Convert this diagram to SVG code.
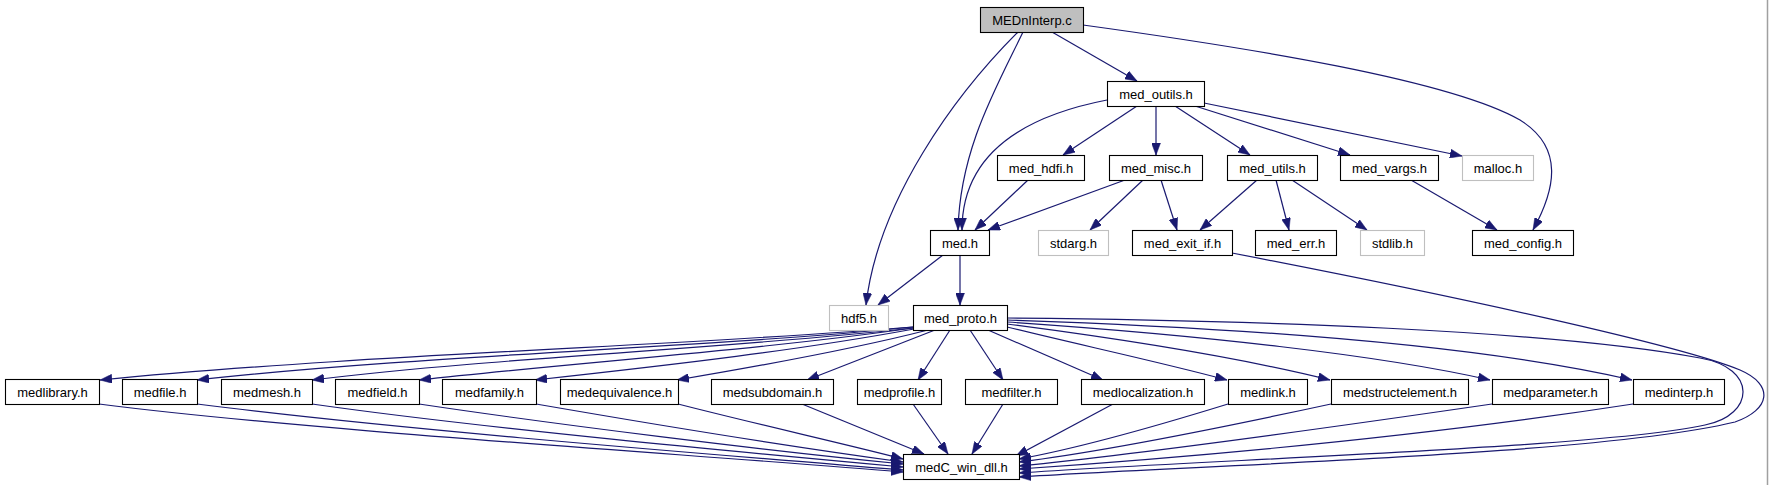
<svg xmlns="http://www.w3.org/2000/svg" width="1769" height="485" viewBox="0 0 1769 485">
<style>
.n rect{fill:#ffffff;stroke:#000000;stroke-width:1.1}
.n.g rect{stroke:#bfbfbf}
.n.root rect{fill:#bfbfbf}
.n text{font-family:"Liberation Sans",Arial,sans-serif;font-size:13px;text-anchor:middle;fill:#000000}
#edges path{fill:none;stroke:#191970;stroke-width:1.2;marker-end:url(#ah)}
</style>
<defs>
<marker id="ah" viewBox="0 0 12 9" refX="12" refY="4.5" markerWidth="12" markerHeight="9" markerUnits="userSpaceOnUse" orient="auto">
<path d="M0,0 L12,4.5 L0,9 z" fill="#191970" stroke="#191970" stroke-width="0.5"/>
</marker>
</defs>
<rect x="0" y="0" width="1769" height="485" fill="#ffffff"/>
<line x1="1767.5" y1="0" x2="1767.5" y2="485" stroke="#a0a0a0" stroke-width="1.5"/>
<g id="edges">
<path d="M1052,32 L1137,81"/>
<path d="M1023,32 C995,90 960,150 958,230"/>
<path d="M1018,32 C955,95 878,200 866,305"/>
<path d="M1083,25 C1250,48 1450,80 1520,120 C1565,148 1555,190 1533,230"/>
<path d="M1107,100 C1030,115 962,150 962,230"/>
<path d="M1137,106 L1063,155"/>
<path d="M1156,106 L1156,155"/>
<path d="M1175,106 L1250,155"/>
<path d="M1195,106 L1350,155"/>
<path d="M1204,103 L1462,156"/>
<path d="M1028,180 L975,230"/>
<path d="M1125,180 L988,230"/>
<path d="M1143,180 L1090,230"/>
<path d="M1161,180 L1177,230"/>
<path d="M1257,180 L1200,230"/>
<path d="M1276,180 L1289,230"/>
<path d="M1292,180 L1367,230"/>
<path d="M1411,180 L1497,230"/>
<path d="M943,255 L878,305"/>
<path d="M960,255 L960,305"/>
<path d="M1232,253 C1450,295 1680,345 1740,370 C1775,385 1770,410 1735,422 C1600,455 1200,465 1019,477"/>
<path d="M1007,318 C1250,320 1550,330 1700,358 C1758,368 1755,415 1705,425 C1600,448 1200,460 1019,473"/>
<path d="M913,327 C700,345 350,355 100,380"/>
<path d="M913,327 C720,347 420,355 197,380"/>
<path d="M913,328 C740,348 500,357 312,380"/>
<path d="M913,328 C760,350 580,362 419,380"/>
<path d="M914,329 C800,350 680,364 535,380"/>
<path d="M928,330 C850,350 760,366 677,380"/>
<path d="M935,330 L807,380"/>
<path d="M950,330 L918,380"/>
<path d="M970,330 L1003,380"/>
<path d="M988,330 L1103,380"/>
<path d="M1007,327 C1080,345 1160,362 1227,380"/>
<path d="M1007,324 C1130,340 1250,360 1330,380"/>
<path d="M1007,322 C1200,335 1380,355 1490,380"/>
<path d="M1007,320 C1250,328 1480,345 1632,380"/>
<path d="M99,404 C300,430 700,455 903,472"/>
<path d="M197,404 C400,430 720,455 903,470"/>
<path d="M312,404 C480,428 740,452 903,467"/>
<path d="M419,404 C560,425 760,450 903,464"/>
<path d="M536,404 C640,422 800,448 903,462"/>
<path d="M678,404 C760,425 850,445 903,459"/>
<path d="M802,404 L924,454"/>
<path d="M913,404 L948,454"/>
<path d="M1003,404 L972,454"/>
<path d="M1113,404 L1016,456"/>
<path d="M1228,404 C1160,425 1080,448 1019,459"/>
<path d="M1331,404 C1220,428 1100,452 1019,462"/>
<path d="M1492,404 C1300,432 1120,456 1019,466"/>
<path d="M1633,404 C1400,440 1150,460 1019,469"/>
</g>
<g id="n_MEDnInterp_c" class="n root"><rect x="980.5" y="7.5" width="103" height="25"/><text x="1032" y="24.5">MEDnInterp.c</text></g>
<g id="n_med_outils_h" class="n"><rect x="1107.5" y="81.5" width="97" height="25"/><text x="1156" y="98.5">med_outils.h</text></g>
<g id="n_med_hdfi_h" class="n"><rect x="997.5" y="155.5" width="87" height="25"/><text x="1041" y="172.5">med_hdfi.h</text></g>
<g id="n_med_misc_h" class="n"><rect x="1109.5" y="155.5" width="93" height="25"/><text x="1156" y="172.5">med_misc.h</text></g>
<g id="n_med_utils_h" class="n"><rect x="1227.5" y="155.5" width="90" height="25"/><text x="1272.5" y="172.5">med_utils.h</text></g>
<g id="n_med_vargs_h" class="n"><rect x="1340.5" y="155.5" width="98" height="25"/><text x="1389.5" y="172.5">med_vargs.h</text></g>
<g id="n_malloc_h" class="n g"><rect x="1462.5" y="155.5" width="71" height="25"/><text x="1498" y="172.5">malloc.h</text></g>
<g id="n_med_h" class="n"><rect x="930.5" y="230.5" width="59" height="25"/><text x="960" y="247.5">med.h</text></g>
<g id="n_stdarg_h" class="n g"><rect x="1038.5" y="230.5" width="70" height="25"/><text x="1073.5" y="247.5">stdarg.h</text></g>
<g id="n_med_exit_if_h" class="n"><rect x="1132.5" y="230.5" width="100" height="25"/><text x="1182.5" y="247.5">med_exit_if.h</text></g>
<g id="n_med_err_h" class="n"><rect x="1255.5" y="230.5" width="81" height="25"/><text x="1296" y="247.5">med_err.h</text></g>
<g id="n_stdlib_h" class="n g"><rect x="1360.5" y="230.5" width="64" height="25"/><text x="1392.5" y="247.5">stdlib.h</text></g>
<g id="n_med_config_h" class="n"><rect x="1472.5" y="230.5" width="101" height="25"/><text x="1523" y="247.5">med_config.h</text></g>
<g id="n_hdf5_h" class="n g"><rect x="829.5" y="305.5" width="59" height="25"/><text x="859" y="322.5">hdf5.h</text></g>
<g id="n_med_proto_h" class="n"><rect x="913.5" y="305.5" width="94" height="25"/><text x="960.5" y="322.5">med_proto.h</text></g>
<g id="n_medlibrary_h" class="n"><rect x="5.5" y="379.5" width="94" height="25"/><text x="52.5" y="396.5">medlibrary.h</text></g>
<g id="n_medfile_h" class="n"><rect x="122.5" y="379.5" width="75" height="25"/><text x="160" y="396.5">medfile.h</text></g>
<g id="n_medmesh_h" class="n"><rect x="221.5" y="379.5" width="91" height="25"/><text x="267" y="396.5">medmesh.h</text></g>
<g id="n_medfield_h" class="n"><rect x="335.5" y="379.5" width="84" height="25"/><text x="377.5" y="396.5">medfield.h</text></g>
<g id="n_medfamily_h" class="n"><rect x="442.5" y="379.5" width="94" height="25"/><text x="489.5" y="396.5">medfamily.h</text></g>
<g id="n_medequivalence_h" class="n"><rect x="560.5" y="379.5" width="118" height="25"/><text x="619.5" y="396.5">medequivalence.h</text></g>
<g id="n_medsubdomain_h" class="n"><rect x="711.5" y="379.5" width="122" height="25"/><text x="772.5" y="396.5">medsubdomain.h</text></g>
<g id="n_medprofile_h" class="n"><rect x="857.5" y="379.5" width="84" height="25"/><text x="899.5" y="396.5">medprofile.h</text></g>
<g id="n_medfilter_h" class="n"><rect x="965.5" y="379.5" width="92" height="25"/><text x="1011.5" y="396.5">medfilter.h</text></g>
<g id="n_medlocalization_h" class="n"><rect x="1081.5" y="379.5" width="123" height="25"/><text x="1143" y="396.5">medlocalization.h</text></g>
<g id="n_medlink_h" class="n"><rect x="1228.5" y="379.5" width="79" height="25"/><text x="1268" y="396.5">medlink.h</text></g>
<g id="n_medstructelement_h" class="n"><rect x="1331.5" y="379.5" width="137" height="25"/><text x="1400" y="396.5">medstructelement.h</text></g>
<g id="n_medparameter_h" class="n"><rect x="1492.5" y="379.5" width="116" height="25"/><text x="1550.5" y="396.5">medparameter.h</text></g>
<g id="n_medinterp_h" class="n"><rect x="1633.5" y="379.5" width="91" height="25"/><text x="1679" y="396.5">medinterp.h</text></g>
<g id="n_medC_win_dll_h" class="n"><rect x="903.5" y="454.5" width="116" height="25"/><text x="961.5" y="471.5">medC_win_dll.h</text></g>
</svg>
